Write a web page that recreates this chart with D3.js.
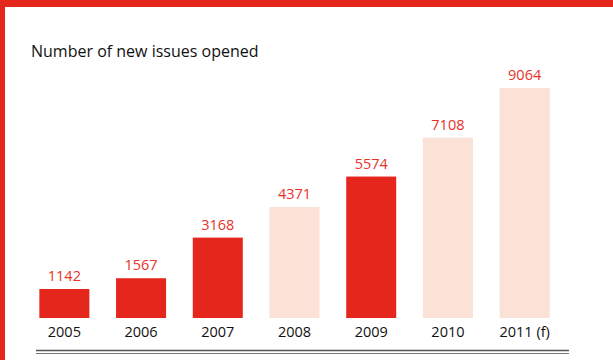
<!DOCTYPE html>
<html>
<head>
<meta charset="utf-8">
<script src="https://cdn.jsdelivr.net/npm/d3@7"></script>
<style>
  html, body { margin: 0; padding: 0; background: #fff; }
  svg { display: block; }
  text { font-family: "Open Sans", "Noto Sans", sans-serif; }
</style>
</head>
<body>
<script>
// New issues opened per year; "actual" years are solid, others pale
const years = ["2005", "2006", "2007", "2008", "2009", "2010", "2011 (f)"];
const issues = [1142, 1567, 3168, 4371, 5574, 7108, 9064];
const solid = [true, true, true, false, true, false, false];
const title = "Number of new issues opened";

const W = 613, H = 360;
const svg = d3.select("body").append("svg").attr("width", W).attr("height", H);

// frame: red band across the top and down the left edge
svg.append("rect").attr("x", 0).attr("y", 0).attr("width", W).attr("height", 7).attr("fill", "#e5261c");
svg.append("rect").attr("x", 0).attr("y", 0).attr("width", 5).attr("height", H).attr("fill", "#e5261c");

svg.append("text")
  .attr("x", 31).attr("y", 57)
  .attr("font-size", 16)
  .attr("fill", "#111")
  .text(title);

const x = d3.scaleBand().domain(years).range([26, 563]).paddingInner(0.348).paddingOuter(0.174);
const y = d3.scaleLinear().domain([0, 9064]).range([318, 88]);

const g = svg.append("g");
g.selectAll("rect.bar").data(issues).join("rect")
  .attr("class", "bar")
  .attr("x", (d, i) => x(years[i]))
  .attr("width", x.bandwidth())
  .attr("y", d => y(d))
  .attr("height", d => y(0) - y(d))
  .attr("fill", (d, i) => solid[i] ? "#e5261c" : "#fbe1d6");

g.selectAll("text.val").data(issues).join("text")
  .attr("class", "val")
  .attr("x", (d, i) => x(years[i]) + x.bandwidth() / 2)
  .attr("y", d => y(d) - 8)
  .attr("text-anchor", "middle")
  .attr("font-size", 14.5)
  .attr("fill", "#e8322a")
  .text(d => d);

// year labels below the bars
const axis = d3.axisBottom(x).tickSize(0).tickPadding(0);
const ax = svg.append("g").attr("transform", "translate(0,337)").call(axis);
ax.select(".domain").remove();
ax.selectAll("text")
  .attr("dy", 0)
  .attr("font-size", 14.5)
  .attr("fill", "#111")
  .style("font-family", "'Open Sans', sans-serif");

// double rule under the chart
svg.append("line").attr("x1", 36).attr("x2", 569).attr("y1", 350.5).attr("y2", 350.5)
  .attr("stroke", "#555").attr("stroke-width", 1.5);
svg.append("line").attr("x1", 36).attr("x2", 569).attr("y1", 353.5).attr("y2", 353.5)
  .attr("stroke", "#777").attr("stroke-width", 1.2);
</script>
</body>
</html>
